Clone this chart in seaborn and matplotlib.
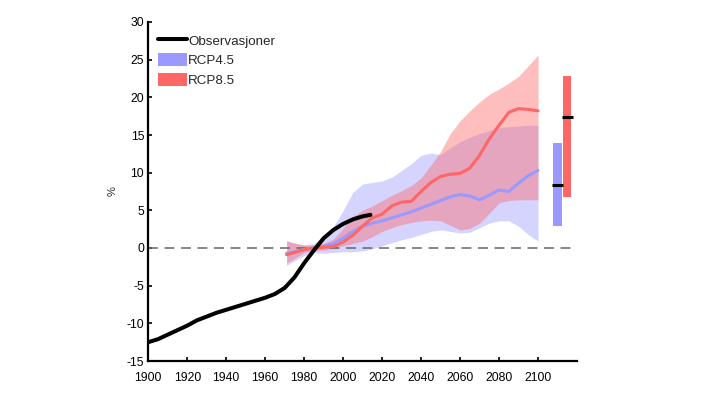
"""Precipitation change (%) relative to 1971-2000: observations and RCP projections."""

import matplotlib.pyplot as plt
import pandas as pd
import seaborn as sns
from matplotlib.lines import Line2D
from matplotlib.patches import Patch

# observed (smoothed) series
obs_years = [1900, 1905, 1910, 1915, 1920, 1925, 1930, 1935, 1940, 1945, 1950, 1955,
             1960, 1965, 1970, 1975, 1980, 1985, 1990, 1995, 2000, 2005, 2010, 2014]
obs_values = [-12.5, -12.1, -11.5, -10.9, -10.3, -9.6, -9.1, -8.6, -8.2, -7.8, -7.4, -7.0,
              -6.6, -6.1, -5.3, -3.9, -2.0, -0.3, 1.3, 2.4, 3.2, 3.8, 4.2, 4.4]

# projections
proj_years = [1971, 1975, 1980, 1985, 1990, 1995, 2000, 2005, 2010, 2015, 2020, 2025,
              2030, 2035, 2040, 2045, 2050, 2055, 2060, 2065, 2070, 2075, 2080, 2085,
              2090, 2095, 2100]
rcp45_median = [-0.7, -0.5, -0.2, 0.0, 0.2, 0.6, 1.3, 2.2, 2.9, 3.3, 3.6, 4.0,
                4.4, 4.8, 5.3, 5.8, 6.3, 6.8, 7.1, 6.9, 6.4, 7.0, 7.7, 7.5,
                8.6, 9.6, 10.3]
rcp45_high = [1.0, 0.6, 0.4, 0.6, 1.4, 2.8, 5.0, 7.4, 8.5, 8.7, 8.9, 9.4,
              10.3, 11.2, 12.3, 12.6, 12.4, 13.3, 14.1, 14.7, 15.2, 15.6, 16.0, 16.1,
              16.2, 16.3, 16.3]
rcp45_low = [-2.3, -1.7, -1.0, -0.6, -0.7, -0.6, -0.5, -0.5, -0.4, -0.1, 0.3, 0.7,
             1.1, 1.4, 1.8, 2.2, 2.4, 2.2, 2.0, 2.1, 2.7, 3.3, 3.6, 3.6,
             2.9, 1.8, 0.9]
rcp85_median = [-0.9, -0.6, -0.2, 0.0, 0.1, 0.2, 0.8, 1.7, 2.9, 4.0, 4.5, 5.6,
                6.1, 6.2, 7.5, 8.7, 9.5, 9.8, 9.9, 10.6, 12.3, 14.5, 16.3, 18.0,
                18.5, 18.4, 18.2]
rcp85_high = [0.9, 0.7, 0.4, 0.4, 0.6, 1.2, 2.6, 4.2, 5.0, 5.6, 6.3, 7.0,
              7.6, 8.3, 9.3, 11.0, 12.8, 15.2, 16.9, 18.2, 19.4, 20.4, 21.1, 21.9,
              22.8, 24.2, 25.6]
rcp85_low = [-2.0, -1.4, -0.6, -0.3, -0.3, 0.0, 0.3, 0.6, 0.9, 1.5, 2.2, 2.7,
             3.1, 3.4, 3.6, 3.7, 3.6, 3.0, 2.4, 2.6, 3.3, 4.6, 6.0, 6.3,
             6.4, 6.4, 6.4]

# ranges at end of century (side bars)
bar_years = [2110, 2115]
bar_low = [2.9, 6.8]
bar_high = [13.9, 22.8]
bar_median = [8.4, 17.4]

BLUE = "#9999ff"
RED = "#ff6666"

sns.set_theme(style="ticks")
plt.rcParams["font.family"] = ["Liberation Sans", "DejaVu Sans"]
plt.rcParams["axes.unicode_minus"] = False

obs = pd.DataFrame({"year": obs_years, "value": obs_values})
proj = pd.DataFrame({
    "year": proj_years,
    "rcp45": rcp45_median, "rcp45_lo": rcp45_low, "rcp45_hi": rcp45_high,
    "rcp85": rcp85_median, "rcp85_lo": rcp85_low, "rcp85_hi": rcp85_high,
})

fig = plt.figure(figsize=(7.06, 3.98), dpi=100)
ax = fig.add_axes([148.3 / 706, 1 - 361 / 398, (577 - 148.3) / 706, (361 - 22) / 398])

ax.fill_between(proj["year"], proj["rcp45_lo"], proj["rcp45_hi"],
                color=BLUE, alpha=0.42, linewidth=0)
ax.fill_between(proj["year"], proj["rcp85_lo"], proj["rcp85_hi"],
                color=RED, alpha=0.42, linewidth=0)
ax.axhline(0, color="#666666", linestyle=(0, (6.5, 4.3)), linewidth=1.1, zorder=1)

sns.lineplot(data=proj, x="year", y="rcp45", color=BLUE, linewidth=2.2, ax=ax)
sns.lineplot(data=proj, x="year", y="rcp85", color=RED, linewidth=2.2, ax=ax)
sns.lineplot(data=obs, x="year", y="value", color="black", linewidth=2.9, ax=ax)

ax.bar(bar_years, [h - l for h, l in zip(bar_high, bar_low)], bottom=bar_low,
       width=4.2, color=[BLUE, RED], linewidth=0)
for x, m in zip(bar_years, bar_median):
    ax.hlines(m, x - 2.9, x + 2.9, color="black", linewidth=2.2)

ax.set_xlim(1900, 2120)
ax.set_ylim(-15, 30)
ax.set_xticks(range(1900, 2101, 20))
ax.set_yticks(range(-15, 31, 5))
ax.set_xlabel("")
ax.set_ylabel("%", fontsize=8)
ax.yaxis.set_label_coords(-0.072, 0.5)
ax.tick_params(direction="in", length=3, width=1.2, labelsize=8.8, colors="black")
ax.tick_params(axis="x", pad=8)
ax.tick_params(axis="y", pad=3)
sns.despine(ax=ax)
for side in ("left", "bottom"):
    ax.spines[side].set_linewidth(1.6)
    ax.spines[side].set_color("black")

handles = [
    Line2D([], [], color="black", linewidth=2.9),
    Patch(facecolor=BLUE, edgecolor="none"),
    Patch(facecolor=RED, edgecolor="none"),
]
ax.legend(handles, ["Observasjoner", "RCP4.5", "RCP8.5"], loc="upper left",
          bbox_to_anchor=(0.0226, 0.966), frameon=False, fontsize=9.6,
          handlelength=2.15, handleheight=1.12, handletextpad=0.1,
          labelspacing=0.42, borderaxespad=0, borderpad=0)

fig.savefig("out.png", dpi=100)
